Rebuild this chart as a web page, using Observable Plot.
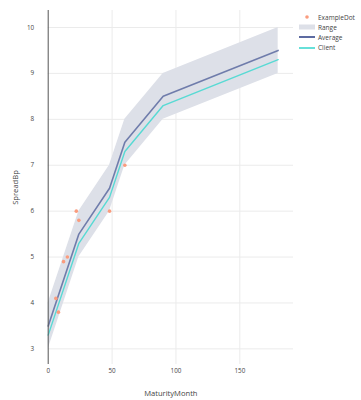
<!DOCTYPE html>
<html>
<head>
<meta charset="utf-8">
<script src="https://cdn.jsdelivr.net/npm/d3@7"></script>
<script src="https://cdn.jsdelivr.net/npm/@observablehq/plot@0.6"></script>
<style>
  html, body { margin: 0; padding: 0; background: #fff; }
  #wrap { position: relative; width: 361px; height: 400px; font-family: "Open Sans", sans-serif; }
  #legend { position: absolute; left: 299px; top: 12px; font-size: 6.5px; color: #444; }
  #legend .item { display: flex; align-items: center; height: 10.2px; }
  #legend svg { margin-right: 3px; }
</style>
</head>
<body>
<div id="wrap"></div>
<script>
// Curve data
const maturity  = [0, 24, 48, 60, 90, 180];
const average   = [3.5, 5.5, 6.5, 7.5, 8.5, 9.5];
const client    = [3.3, 5.3, 6.3, 7.3, 8.3, 9.3];
const rangeLow  = [3.0, 5.0, 6.0, 7.0, 8.0, 9.0];
const rangeHigh = [4.0, 6.0, 7.0, 8.0, 9.0, 10.0];
// Example dots
const dotX = [6, 8, 12, 15, 22, 24, 48, 60];
const dotY = [4.1, 3.8, 4.9, 5.0, 6.0, 5.8, 6.0, 7.0];
// Ticks
const xTicks = [0, 50, 100, 150];
const yTicks = [3, 4, 5, 6, 7, 8, 9, 10];
// Legend
const legendLabels = ["ExampleDot", "Range", "Average", "Client"];

const colors = { dot: "#fa9c7e", range: "#dde0e8", average: "#34468a", client: "#40d8d0" };

const curve = maturity.map((m, i) => ({ m, avg: average[i], cli: client[i], lo: rangeLow[i], hi: rangeHigh[i] }));
const dots = dotX.map((x, i) => ({ x, y: dotY[i] }));

const chart = Plot.plot({
  width: 361,
  height: 400,
  marginLeft: 47.7,
  marginRight: 68,
  marginTop: 10,
  marginBottom: 36,
  style: { fontFamily: "Open Sans, sans-serif", color: "#444", background: "#fff" },
  x: { domain: [0, 192] },
  y: { domain: [2.66, 10.37] },
  marks: [
    Plot.gridX(xTicks.filter(d => d > 0), { stroke: "#ebebeb", strokeOpacity: 1 }),
    Plot.gridY(yTicks, { stroke: "#ebebeb", strokeOpacity: 1 }),
    Plot.areaY(curve, { x: "m", y1: "lo", y2: "hi", fill: colors.range, fillOpacity: 1 }),
    Plot.line(curve, { x: "m", y: "avg", stroke: colors.average, strokeOpacity: 0.65, strokeWidth: 1.6 }),
    Plot.line(curve, { x: "m", y: "cli", stroke: colors.client, strokeOpacity: 0.85, strokeWidth: 1.4 }),
    Plot.dot(dots, { x: "x", y: "y", r: 1.8, fill: colors.dot, stroke: null }),
    Plot.ruleX([0], { stroke: "#555", strokeWidth: 1 }),
    Plot.axisX(xTicks, { tickSize: 0, tickPadding: 4, fontSize: 6.3, label: null }),
    Plot.axisY(yTicks, { tickSize: 0, tickPadding: 14, fontSize: 6.3, label: null }),
    Plot.axisX([], { label: "MaturityMonth", labelAnchor: "center", labelArrow: "none", labelOffset: 31, fontSize: 7.6 }),
    Plot.axisY([], { label: "SpreadBp", labelAnchor: "center", labelArrow: "none", labelOffset: 36, fontSize: 7.6 })
  ]
});
document.getElementById("wrap").appendChild(chart);

// Legend (HTML overlay)
const legend = document.createElement("div");
legend.id = "legend";
const swatches = [
  `<svg width="16" height="8"><circle cx="8" cy="4" r="1.8" fill="${colors.dot}"/></svg>`,
  `<svg width="16" height="8"><rect x="0" y="1.5" width="16" height="5" fill="${colors.range}"/></svg>`,
  `<svg width="16" height="8"><line x1="0" x2="16" y1="4" y2="4" stroke="${colors.average}" stroke-width="1.6"/></svg>`,
  `<svg width="16" height="8"><line x1="0" x2="16" y1="4" y2="4" stroke="${colors.client}" stroke-width="1.6"/></svg>`
];
legend.innerHTML = legendLabels.map((l, i) => `<div class="item">${swatches[i]}<span>${l}</span></div>`).join("");
document.getElementById("wrap").appendChild(legend);
</script>
</body>
</html>
